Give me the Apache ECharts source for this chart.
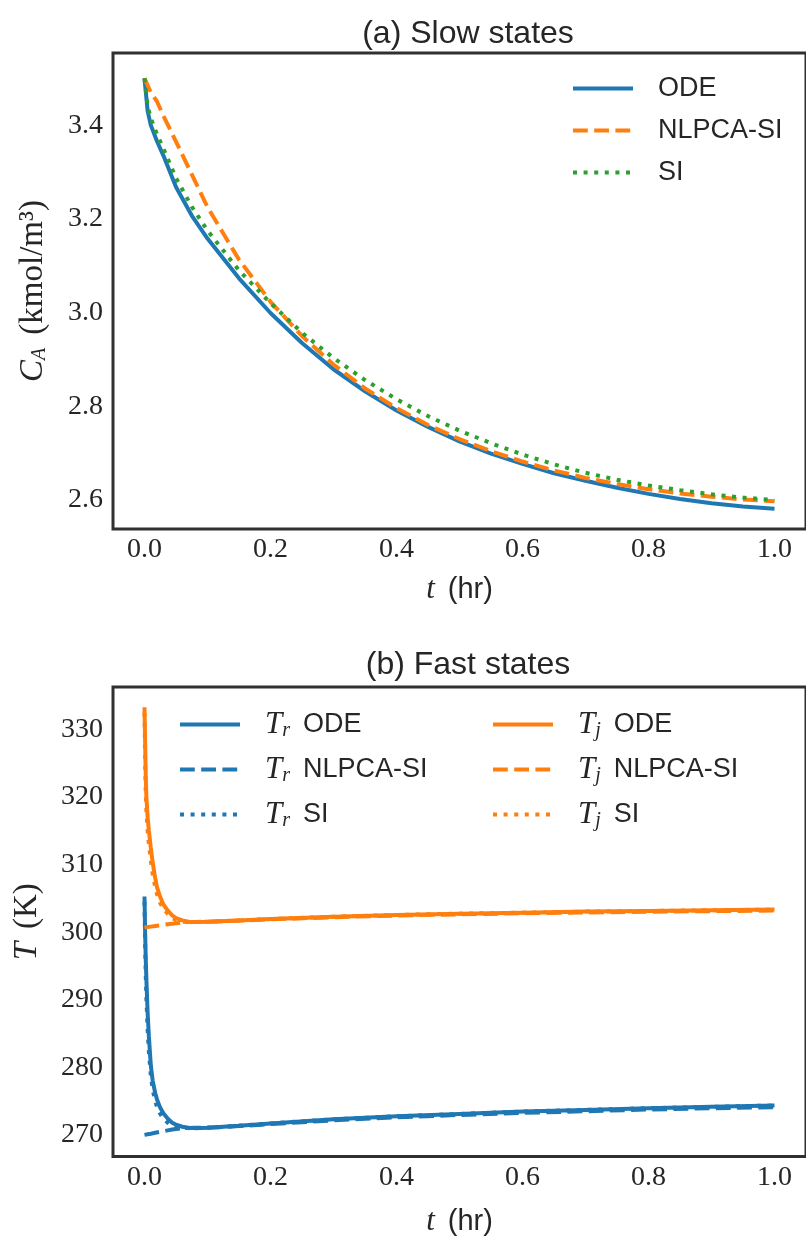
<!DOCTYPE html>
<html>
<head>
<meta charset="utf-8">
<script src="https://cdn.jsdelivr.net/npm/echarts@6/dist/echarts.min.js"></script>
<style>
    html, body { margin: 0; padding: 0; background: #fff; }
    #main { width: 806px; height: 1238px; }
</style>
</head>
<body>
<div id="main"></div>
<script>
// (a) slow state, C_A
var tSlow = [0, 0.005, 0.01, 0.02, 0.03, 0.05, 0.075, 0.1, 0.15, 0.2, 0.25, 0.3, 0.35, 0.4, 0.45, 0.5, 0.55, 0.6, 0.65, 0.7, 0.75, 0.8, 0.85, 0.9, 0.95, 1.0];
var caOde = [3.5, 3.43, 3.40, 3.365, 3.335, 3.268, 3.207, 3.158, 3.073, 2.999, 2.935, 2.879, 2.832, 2.791, 2.756, 2.725, 2.699, 2.677, 2.657, 2.641, 2.626, 2.613, 2.602, 2.593, 2.586, 2.581];
var caNlpca = [3.5, 3.485, 3.47, 3.45, 3.42, 3.365, 3.295, 3.225, 3.113, 3.023, 2.95, 2.889, 2.838, 2.796, 2.76, 2.73, 2.704, 2.682, 2.663, 2.647, 2.634, 2.623, 2.614, 2.607, 2.601, 2.597];
var caSi = [3.5, 3.44, 3.415, 3.38, 3.35, 3.287, 3.226, 3.175, 3.09, 3.02, 2.957, 2.903, 2.856, 2.815, 2.779, 2.748, 2.721, 2.697, 2.676, 2.658, 2.643, 2.631, 2.621, 2.612, 2.605, 2.6];

// (b) fast states, T_r and T_j
var tFast = [0, 0.001, 0.002, 0.003, 0.005, 0.007, 0.01, 0.013, 0.017, 0.02, 0.025, 0.03, 0.037, 0.044, 0.05, 0.06, 0.07, 0.08, 0.1, 0.15, 0.2, 0.3, 0.4, 0.5, 0.6, 0.7, 0.8, 0.9, 1.0];
var trOde = [305.3, 300, 296, 293, 288, 284.5, 280.3, 278, 276.2, 275.2, 274, 273.2, 272.4, 271.8, 271.5, 271.2, 271.05, 271.0, 271.05, 271.35, 271.7, 272.3, 272.75, 273.1, 273.45, 273.7, 273.95, 274.15, 274.35];
var trNlpca = [270.0, 270.02, 270.04, 270.05, 270.09, 270.13, 270.18, 270.24, 270.31, 270.36, 270.45, 270.54, 270.67, 270.79, 270.88, 270.98, 271.02, 271.04, 271.05, 271.3, 271.6, 272.15, 272.6, 272.95, 273.25, 273.5, 273.75, 273.95, 274.1];
var trSi = [304.5, 298, 293.5, 290.2, 285.5, 282.2, 278.8, 276.7, 275.0, 274.1, 273.1, 272.4, 271.8, 271.4, 271.2, 271.05, 271.0, 271.0, 271.05, 271.35, 271.7, 272.3, 272.75, 273.1, 273.45, 273.7, 273.95, 274.15, 274.35];
var tjOde = [333.3, 328, 323, 320, 317, 315, 312.5, 310.3, 308, 306.6, 305.2, 304.1, 303.2, 302.5, 302.1, 301.75, 301.55, 301.5, 301.55, 301.75, 301.95, 302.3, 302.55, 302.75, 302.9, 303.05, 303.15, 303.25, 303.35];
var tjNlpca = [300.7, 300.71, 300.72, 300.74, 300.76, 300.79, 300.83, 300.87, 300.92, 300.96, 301.02, 301.09, 301.18, 301.27, 301.34, 301.45, 301.5, 301.52, 301.55, 301.72, 301.9, 302.22, 302.47, 302.65, 302.8, 302.93, 303.03, 303.12, 303.2];
var tjSi = [332.5, 325, 320.5, 318, 315, 313, 310.6, 308.6, 306.7, 305.6, 304.3, 303.5, 302.7, 302.1, 301.8, 301.55, 301.5, 301.5, 301.55, 301.75, 301.95, 302.3, 302.55, 302.75, 302.9, 303.05, 303.15, 303.25, 303.35];

var xTicks = [0, 0.2, 0.4, 0.6, 0.8, 1.0];
var caTicks = [2.6, 2.8, 3.0, 3.2, 3.4];
var tempTicks = [270, 280, 290, 300, 310, 320, 330];

var BLUE = '#1f77b4', ORANGE = '#ff7f0e', GREEN = '#2ca02c';
var TEXT = '#262626';
var SERIF = '"Liberation Serif", "DejaVu Serif", serif';
var SANS = '"Liberation Sans", Arial, sans-serif';
var LW = 4;
var DASH = [14.8, 6.4];
var DOT = [4, 6.6];

function pairs(t, v) {
    var out = [];
    for (var i = 0; i < t.length; i++) {
        out.push([t[i], v[i]]);
    }
    return out;
}

function line(name, idx, t, v, color, type) {
    return {
        name: name,
        type: 'line',
        xAxisIndex: idx,
        yAxisIndex: idx,
        data: pairs(t, v),
        symbol: 'none',
        showSymbol: false,
        lineStyle: { color: color, width: LW, type: type, cap: 'butt' },
        itemStyle: { color: color },
        emphasis: { disabled: true }
    };
}

var rich = {
    it: { fontFamily: SERIF, fontStyle: 'italic', fontSize: 31, color: TEXT, lineHeight: 32 },
    sub: { fontFamily: SERIF, fontStyle: 'italic', fontSize: 20, color: TEXT, lineHeight: 15, verticalAlign: 'bottom' },
    rm: { fontFamily: SERIF, fontSize: 30, color: TEXT, lineHeight: 32 },
    big: { fontFamily: SERIF, fontSize: 33, color: TEXT, lineHeight: 34 },
    bigit: { fontFamily: SERIF, fontStyle: 'italic', fontSize: 33, color: TEXT, lineHeight: 34 },
    sans: { fontFamily: SANS, fontSize: 27, color: TEXT, lineHeight: 32 },
    hr: { fontFamily: SANS, fontSize: 29, color: TEXT, lineHeight: 32 },
    sp: { width: 20, lineHeight: 32 },
    gap: { width: 13, lineHeight: 32 }
};

function xAxis(idx, gap) {
    return {
        type: 'value',
        gridIndex: idx,
        min: -0.05,
        max: 1.05,
        name: '{it|t}{gap| }{hr|(hr)}',
        nameLocation: 'middle',
        nameGap: gap,
        nameTextStyle: { rich: rich },
        axisLine: { show: false },
        axisTick: { show: false },
        splitLine: { show: false },
        axisLabel: {
            customValues: xTicks,
            margin: 7,
            fontFamily: SERIF,
            fontSize: 28,
            color: TEXT,
            formatter: function (v) { return v.toFixed(1); }
        }
    };
}

function yAxis(idx, min, max, ticks, digits, name, gap) {
    return {
        type: 'value',
        gridIndex: idx,
        min: min,
        max: max,
        name: name,
        nameLocation: 'middle',
        nameGap: gap,
        nameRotate: 90,
        nameTextStyle: { rich: rich },
        axisLine: { show: false },
        axisTick: { show: false },
        splitLine: { show: false },
        axisLabel: {
            customValues: ticks,
            margin: 10,
            fontFamily: SERIF,
            fontSize: 28,
            color: TEXT,
            formatter: function (v) { return v.toFixed(digits); }
        }
    };
}

function legendFmt(name) {
    var parts = name.split(' ');
    if (parts[0] === 'Tr' || parts[0] === 'Tj') {
        return '{sp| }{it|T}{sub|' + parts[0].charAt(1) + '}{gap| }{sans|' + parts.slice(1).join(' ') + '}';
    }
    return '{sp| }{sans|' + name + '}';
}

function legend(names, left, top, gap) {
    return {
        data: names,
        orient: 'vertical',
        left: left,
        top: top,
        padding: 0,
        itemWidth: 60,
        itemHeight: 14,
        itemGap: gap,
        selectedMode: false,
        formatter: legendFmt,
        itemStyle: { color: 'transparent', borderWidth: 0, opacity: 0 },
        lineStyle: { width: LW },
        textStyle: { rich: rich, color: TEXT }
    };
}

var chart = echarts.init(document.getElementById('main'));

var option = {
    animation: false,
    backgroundColor: '#fff',
    title: [
        {
            text: '(a) Slow states',
            left: 463, top: 29,
            textAlign: 'center', textVerticalAlign: 'middle',
            textStyle: { fontFamily: SANS, fontSize: 32, fontWeight: 'normal', color: TEXT }
        },
        {
            text: '(b) Fast states',
            left: 463, top: 660,
            textAlign: 'center', textVerticalAlign: 'middle',
            textStyle: { fontFamily: SANS, fontSize: 32, fontWeight: 'normal', color: TEXT }
        }
    ],
    grid: [
        { left: 113, top: 53, width: 700, height: 476, show: true, borderColor: '#303030', borderWidth: 3, backgroundColor: '#fff' },
        { left: 113, top: 687, width: 700, height: 475, show: true, borderColor: '#303030', borderWidth: 3, backgroundColor: '#fff' }
    ],
    legend: [
        legend(['ODE', 'NLPCA-SI', 'SI'], 571, 75, 15),
        legend(['Tr ODE', 'Tr NLPCA-SI', 'Tr SI'], 178, 709, 13.5),
        legend(['Tj ODE', 'Tj NLPCA-SI', 'Tj SI'], 491, 709, 13.5)
    ],
    xAxis: [xAxis(0, 45), xAxis(1, 49)],
    yAxis: [
        yAxis(0, 2.538, 3.554, caTicks, 1, '{bigit|C}{sub|A}{gap| }{big|(kmol/m³)}', 63),
        yAxis(1, 266.8, 336.3, tempTicks, 0, '{bigit|T}{gap| }{big|(K)}', 69)
    ],
    series: [
        line('ODE', 0, tSlow, caOde, BLUE, 'solid'),
        line('NLPCA-SI', 0, tSlow, caNlpca, ORANGE, DASH),
        line('SI', 0, tSlow, caSi, GREEN, DOT),
        line('Tr ODE', 1, tFast, trOde, BLUE, 'solid'),
        line('Tr NLPCA-SI', 1, tFast, trNlpca, BLUE, DASH),
        line('Tr SI', 1, tFast, trSi, BLUE, DOT),
        line('Tj ODE', 1, tFast, tjOde, ORANGE, 'solid'),
        line('Tj NLPCA-SI', 1, tFast, tjNlpca, ORANGE, DASH),
        line('Tj SI', 1, tFast, tjSi, ORANGE, DOT)
    ]
};

chart.setOption(option);
</script>
</body>
</html>
